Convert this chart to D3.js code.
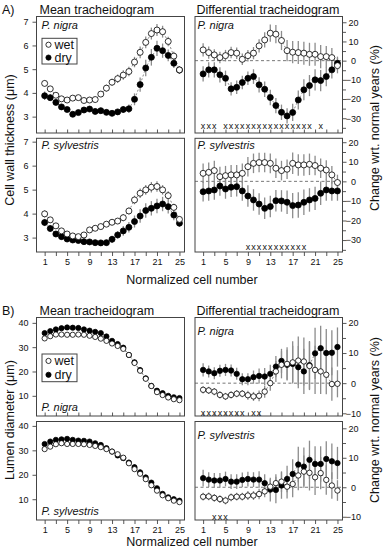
<!DOCTYPE html>
<html><head><meta charset="utf-8">
<script src="https://cdn.jsdelivr.net/npm/d3@7"></script>
<style>
body{margin:0;background:#fff}
svg{display:block}
text{font-family:"Liberation Sans",Arial,sans-serif;fill:#111}
</style>
</head><body>
<svg id="chart" width="384" height="550"></svg>
<script>
// ---------- data ----------
const cells = [1,2,3,4,5,6,7,8,9,10,11,12,13,14,15,16,17,18,19,20,21,22,23,24,25];
const xTickVals = [1,3,5,7,9,11,13,15,17,19,21,23,25];
const xTickLabels = [1,5,9,13,17,21,25];
const wallTicks = [3,4,5,6,7];
const lumenTicks = [10,20,30,40];
const diffTicksA = [20,10,0,-10,-20,-30];
const diffMinorA = [15,5,-5,-15,-25,-35];
const diffTicksB = [20,10,0,-10];
const diffMinorB = [15,5,-5];

// A) cell wall thickness, mean tracheidogram
const wallNigraWet  = [4.40,4.17,3.90,3.75,3.70,3.78,3.80,3.68,3.70,3.72,3.95,4.20,4.45,4.60,4.75,4.90,5.30,5.71,6.13,6.50,6.65,6.58,6.17,5.55,4.97];
const wallNigraWetE = [0.12,0.10,0.10,0.10,0.10,0.10,0.10,0.10,0.10,0.12,0.12,0.15,0.15,0.18,0.20,0.20,0.22,0.25,0.25,0.25,0.25,0.25,0.20,0.18,0.15];
const wallNigraDry  = [3.88,3.80,3.60,3.41,3.30,3.10,3.17,3.28,3.32,3.22,3.25,3.18,3.14,3.20,3.30,3.33,3.73,4.35,5.05,5.50,5.88,5.78,5.58,5.25,4.96];
const wallNigraDryE = [0.18,0.14,0.12,0.12,0.10,0.10,0.10,0.10,0.10,0.12,0.12,0.12,0.12,0.12,0.15,0.18,0.25,0.30,0.35,0.35,0.32,0.30,0.25,0.20,0.15];
const wallSylvWet   = [3.99,3.74,3.49,3.28,3.15,3.07,3.04,3.11,3.32,3.39,3.46,3.56,3.64,3.69,3.83,4.11,4.57,4.85,4.99,5.10,5.13,4.99,4.75,4.26,3.76];
const wallSylvWetE  = [0.15,0.12,0.10,0.10,0.10,0.10,0.10,0.10,0.10,0.10,0.10,0.10,0.12,0.12,0.15,0.15,0.18,0.20,0.20,0.22,0.22,0.20,0.18,0.15,0.12];
const wallSylvDry   = [3.63,3.38,3.15,3.04,2.94,2.90,2.88,2.83,2.82,2.79,2.78,2.79,2.93,3.11,3.28,3.43,3.67,3.90,4.13,4.22,4.32,4.40,4.29,3.94,3.60];
const wallSylvDryE  = [0.15,0.15,0.12,0.12,0.12,0.12,0.12,0.12,0.12,0.12,0.12,0.12,0.15,0.15,0.20,0.22,0.25,0.28,0.30,0.30,0.30,0.30,0.28,0.22,0.15];

// A) cell wall thickness, differential tracheidogram (%)
const wallNigraWetD  = [5.6,4.2,3.0,1.6,2.6,4.2,3.9,0.7,2.6,3.9,7.7,10.8,14.3,13.8,10.5,5.2,4.4,4.2,3.9,3.3,3.3,2.1,2.1,1.6,-2.6];
const wallNigraWetDE = [3.5,3.2,3.0,3.0,3.0,3.0,3.0,3.0,3.0,3.2,3.5,4.0,4.5,4.8,5.0,5.5,5.8,6.0,6.0,6.0,6.0,6.0,5.5,5.0,4.0];
const wallNigraDryD  = [-6.9,-4.8,-4.8,-7.4,-9.2,-14.7,-13.9,-11.4,-9.2,-8.3,-12.6,-14.9,-19.2,-23.4,-26.9,-28.8,-27.0,-20.5,-15.2,-13.0,-10.0,-10.4,-8.3,-4.8,-1.4];
const wallNigraDryDE = [4.0,4.0,4.0,4.0,4.0,3.5,3.5,3.5,3.5,3.8,4.0,4.0,4.0,4.0,4.0,4.0,4.5,5.0,5.5,5.5,5.5,5.5,5.0,4.5,3.5];
const wallSylvWetD   = [4.1,4.6,5.5,2.4,2.9,3.3,3.3,4.1,7.5,9.2,9.6,9.6,9.2,6.7,5.5,6.2,9.2,8.4,8.4,8.7,8.1,6.7,5.8,3.3,-0.6];
const wallSylvWetDE  = [5.0,5.0,5.0,5.0,5.0,5.0,5.0,5.0,5.0,5.0,5.0,5.0,5.0,5.0,5.0,5.0,5.5,5.5,5.5,5.5,5.0,5.0,5.0,4.5,4.0];
const wallSylvDryD   = [-5.3,-4.9,-4.4,-2.4,-3.9,-3.0,-2.7,-4.9,-7.5,-9.5,-11.6,-13.8,-12.9,-9.9,-10.0,-10.7,-12.4,-12.1,-10.7,-9.5,-8.7,-6.1,-4.4,-4.9,-4.9];
const wallSylvDryDE  = [5.0,5.0,5.0,5.0,5.0,5.0,5.0,5.0,5.5,5.5,5.5,5.5,5.5,5.5,5.5,6.0,6.5,6.5,6.5,6.0,6.0,6.0,5.5,5.0,5.0];
const wallNigraSig = [1,2,3,5,6,7,8,9,10,11,12,13,14,15,16,17,18,19,20,22];
const wallSylvSig  = [9,10,11,12,13,14,15,16,17,18,19];

// B) lumen diameter, mean tracheidogram
const lumenNigraWet  = [33.6,34.5,35.2,35.2,35.1,35.1,35.2,35.1,34.7,34.2,33.5,32.6,31.5,30.5,29.3,26.8,23.5,20.3,17.0,14.0,11.5,10.3,9.3,8.6,8.2];
const lumenNigraWetE = [0.5,0.5,0.5,0.5,0.5,0.5,0.5,0.5,0.5,0.5,0.5,0.6,0.6,0.7,0.8,0.9,1.0,1.0,1.0,0.9,0.8,0.7,0.6,0.5,0.5];
const lumenNigraDry  = [35.8,36.6,37.3,37.8,38.1,38.0,37.9,37.3,36.8,36.3,35.8,34.4,32.6,31.3,29.8,26.8,23.8,20.6,17.2,14.1,12.1,11.1,10.0,9.4,9.1];
const lumenNigraDryE = [0.7,0.7,0.7,0.7,0.7,0.7,0.7,0.7,0.7,0.7,0.7,0.8,0.8,0.9,1.0,1.1,1.2,1.2,1.1,1.0,0.9,0.8,0.7,0.7,0.6];
const lumenSylvWet   = [30.5,31.5,32.5,32.9,32.6,32.6,32.6,32.5,32.2,31.8,31.3,30.5,29.5,28.4,27.0,24.7,22.3,20.4,18.2,15.7,13.5,11.6,10.4,9.4,8.8];
const lumenSylvWetE  = [0.5,0.5,0.5,0.5,0.5,0.5,0.5,0.5,0.5,0.5,0.5,0.6,0.6,0.7,0.8,0.9,1.0,1.0,1.0,0.9,0.8,0.7,0.6,0.5,0.5];
const lumenSylvDry   = [32.6,33.6,34.3,34.5,34.7,34.3,34.0,33.9,33.6,32.9,32.2,30.9,29.5,27.9,26.8,25.0,23.1,21.0,18.9,16.8,14.5,12.2,10.8,10.0,9.4];
const lumenSylvDryE  = [0.7,0.7,0.7,0.7,0.7,0.7,0.7,0.7,0.7,0.7,0.7,0.8,0.9,1.0,1.1,1.2,1.2,1.2,1.1,1.0,0.9,0.8,0.7,0.7,0.6];

// B) lumen diameter, differential tracheidogram (%)
const lumenNigraWetD  = [-2.2,-2.4,-2.8,-3.9,-4.4,-3.9,-3.5,-3.5,-4.0,-4.4,-4.2,-2.8,0.0,3.9,6.1,6.4,6.9,7.5,7.2,5.7,4.4,3.9,2.8,-0.3,-0.2];
const lumenNigraWetDE = [1.2,1.2,1.2,1.2,1.2,1.2,1.2,1.2,1.5,1.5,1.8,2.0,2.5,3.5,4.5,5.5,7.0,8.0,8.0,8.0,8.0,7.5,6.5,5.5,4.5];
const lumenNigraDryD  = [4.4,3.9,3.3,4.1,4.4,4.2,3.1,1.3,1.3,2.0,2.4,2.2,3.1,5.5,7.4,6.1,6.4,5.3,3.9,6.0,9.9,11.6,10.0,10.1,12.0];
const lumenNigraDryDE = [2.2,2.0,2.0,2.0,2.0,2.0,2.0,2.0,2.0,2.2,2.5,2.8,3.0,3.5,4.0,5.0,6.0,7.0,7.5,8.0,8.5,7.5,8.0,7.5,6.5];
const lumenSylvWetD   = [-3.2,-3.1,-3.6,-4.0,-4.5,-3.4,-3.2,-3.2,-2.8,-2.8,-2.3,-1.4,0.2,1.4,1.9,0.2,1.1,4.0,5.3,4.9,3.4,4.8,2.5,0.6,-1.1];
const lumenSylvWetDE  = [1.3,1.3,1.3,1.3,1.3,1.3,1.3,1.3,1.5,1.5,1.8,2.0,2.5,3.0,3.5,4.0,4.5,5.0,5.5,6.0,6.0,5.5,5.0,4.5,3.5];
const lumenSylvDryD   = [3.1,2.6,2.3,2.3,2.8,1.9,1.9,2.5,2.8,2.6,2.6,1.4,-0.8,-0.9,0.6,2.8,4.5,7.7,7.0,9.3,7.9,7.9,9.6,8.8,8.2];
const lumenSylvDryDE  = [2.8,2.5,2.5,2.5,2.5,2.5,2.5,2.5,2.5,2.5,2.8,3.0,4.0,4.5,4.5,4.5,5.0,6.0,6.5,6.5,6.0,6.0,6.0,6.0,5.5];
const lumenNigraSig = [1,2,3,4,5,6,7,8,10,11];
const lumenSylvSig  = [3,4,5];

// ---------- layout ----------
const svg = d3.select("#chart");
const LX = [36.5, 184.5], RX = [195, 342.5];
const FONT = '"Liberation Sans",Arial,sans-serif';
const boxCol = "#444";

const panels = [
  {x:LX, y:[16.5,133], dom:[2.31,7.22], ticks:wallTicks, side:"left", wet:wallNigraWet, wetE:wallNigraWetE, dry:wallNigraDry, dryE:wallNigraDryE, sp:"P. nigra", spY:29, bottom:"inner", r:3.0, legend:[38.3,64]},
  {x:LX, y:[138.3,252], dom:[2.4,7.14], ticks:wallTicks, side:"left", wet:wallSylvWet, wetE:wallSylvWetE, dry:wallSylvDry, dryE:wallSylvDryE, sp:"P. sylvestris", spY:149, bottom:"outer", r:3.0},
  {x:RX, y:[16.5,133], dom:[-37.7,23], ticks:diffTicksA, minor:diffMinorA, side:"right", diff:true, wet:wallNigraWetD, wetE:wallNigraWetDE, dry:wallNigraDryD, dryE:wallNigraDryDE, sp:"P. nigra", spY:29, bottom:"inner", r:3.0, sig:wallNigraSig, sigV:-34.3},
  {x:RX, y:[138.3,252], dom:[-36.1,22], ticks:diffTicksA, minor:diffMinorA, side:"right", diff:true, wet:wallSylvWetD, wetE:wallSylvWetDE, dry:wallSylvDryD, dryE:wallSylvDryDE, sp:"P. sylvestris", spY:149, bottom:"outer", r:3.0, sig:wallSylvSig, sigV:-33.8},
  {x:LX, y:[317.5,416], dom:[1.7,42.2], ticks:lumenTicks, side:"left", wet:lumenNigraWet, wetE:lumenNigraWetE, dry:lumenNigraDry, dryE:lumenNigraDryE, sp:"P. nigra", spY:411, bottom:"inner", r:2.6, legend:[354,381.7]},
  {x:LX, y:[421.5,520], dom:[1.5,41.8], ticks:lumenTicks, side:"left", wet:lumenSylvWet, wetE:lumenSylvWetE, dry:lumenSylvDry, dryE:lumenSylvDryE, sp:"P. sylvestris", spY:515, bottom:"outer", r:2.6},
  {x:RX, y:[317.5,416], dom:[-10.9,21.8], ticks:diffTicksB, minor:diffMinorB, side:"right", diff:true, wet:lumenNigraWetD, wetE:lumenNigraWetDE, dry:lumenNigraDryD, dryE:lumenNigraDryDE, sp:"P. nigra", spY:335, bottom:"inner", r:2.7, sig:lumenNigraSig, sigV:-10},
  {x:RX, y:[421.5,520], dom:[-11.1,22.3], ticks:diffTicksB, minor:diffMinorB, side:"right", diff:true, wet:lumenSylvWetD, wetE:lumenSylvWetDE, dry:lumenSylvDryD, dryE:lumenSylvDryDE, sp:"P. sylvestris", spY:439, bottom:"outer", r:2.7, sig:lumenSylvSig, sigV:-10.2}
];

function styleAxis(g){
  g.select(".domain").remove();
  g.selectAll(".tick line").attr("stroke", boxCol).attr("stroke-width", 0.9);
  g.selectAll(".tick text").attr("font-family", FONT).attr("font-size", 9).attr("fill", "#111");
}

panels.forEach(p => {
  const x = d3.scaleLinear().domain([-0.45, 25.9]).range(p.x);
  const y = d3.scaleLinear().domain(p.dom).range([p.y[1], p.y[0]]);
  const g = svg.append("g");

  g.append("rect").attr("x", p.x[0]).attr("y", p.y[0])
    .attr("width", p.x[1]-p.x[0]).attr("height", p.y[1]-p.y[0])
    .attr("fill", "none").attr("stroke", boxCol).attr("stroke-width", 1);

  if (p.diff) {
    g.append("line").attr("x1", p.x[0]).attr("x2", p.x[1])
      .attr("y1", y(0)).attr("y2", y(0))
      .attr("stroke", "#555").attr("stroke-width", 0.8).attr("stroke-dasharray", "3,2.5");
  }

  const series = [
    {v:p.dry, e:p.dryE, fill:"#000"},
    {v:p.wet, e:p.wetE, fill:"#fff"}
  ];
  series.forEach(s => {
    g.append("g").selectAll("line").data(cells).join("line")
      .attr("x1", d => x(d)).attr("x2", d => x(d))
      .attr("y1", (d,i) => y(s.v[i] - s.e[i])).attr("y2", (d,i) => y(s.v[i] + s.e[i]))
      .attr("stroke", "#8c8c8c").attr("stroke-width", 1.3);
  });
  series.forEach(s => {
    const line = d3.line().x(d => x(d)).y((d,i) => y(s.v[i]));
    g.append("path").datum(cells).attr("d", line)
      .attr("fill", "none").attr("stroke", "#555").attr("stroke-width", 0.7)
      .attr("stroke-dasharray", "2,2");
  });
  series.forEach(s => {
    g.append("g").selectAll("circle").data(cells).join("circle")
      .attr("cx", d => x(d)).attr("cy", (d,i) => y(s.v[i]))
      .attr("r", p.r).attr("fill", s.fill).attr("stroke", "#000").attr("stroke-width", 0.8);
  });

  if (p.sig) {
    g.append("g").selectAll("text").data(p.sig).join("text")
      .attr("x", d => x(d)).attr("y", y(p.sigV))
      .attr("text-anchor", "middle").attr("dominant-baseline", "central")
      .attr("font-size", 9).text("x");
  }

  const sx = p.side === "left" ? p.x[0] + 5 : p.x[0] + 2.5;
  g.append("text").attr("x", sx).attr("y", p.spY)
    .attr("font-size", 11).attr("font-style", "italic").text(p.sp);

  if (p.side === "left") {
    const ax = g.append("g").attr("transform", `translate(${p.x[0]},0)`)
      .call(d3.axisLeft(y).tickValues(p.ticks).tickSize(4).tickPadding(4).tickFormat(d3.format("d")));
    styleAxis(ax);
  } else {
    const axm = g.append("g").attr("transform", `translate(${p.x[1]},0)`)
      .call(d3.axisRight(y).tickValues(p.minor).tickSize(3.5).tickFormat(""));
    styleAxis(axm);
    const ax = g.append("g").attr("transform", `translate(${p.x[1]},0)`)
      .call(d3.axisRight(y).tickValues(p.ticks).tickSize(4).tickFormat(d3.format("d")));
    styleAxis(ax);
    ax.selectAll(".tick text").attr("text-anchor", "middle").attr("x", 11);
  }

  if (p.bottom === "outer") {
    const ax = g.append("g").attr("transform", `translate(0,${p.y[1]})`)
      .call(d3.axisBottom(x).tickValues(xTickVals).tickSize(4).tickPadding(3)
        .tickFormat(d => xTickLabels.includes(d) ? d : ""));
    styleAxis(ax);
  } else {
    const ax = g.append("g").attr("transform", `translate(0,${p.y[1]})`)
      .call(d3.axisTop(x).tickValues(xTickVals).tickSize(3.5).tickFormat(""));
    styleAxis(ax);
  }

  if (p.legend) {
    const [ly0, ly1] = p.legend;
    const lg = g.append("g");
    lg.append("rect").attr("x", p.x[0] + 5.5).attr("y", ly0).attr("width", 35).attr("height", ly1 - ly0)
      .attr("fill", "#fff").attr("stroke", boxCol).attr("stroke-width", 1);
    const items = [{t:"wet", f:"#fff"}, {t:"dry", f:"#000"}];
    const step = (ly1 - ly0) / 2;
    items.forEach((it, i) => {
      const cy = ly0 + step * (i + 0.5);
      lg.append("circle").attr("cx", p.x[0] + 12).attr("cy", cy).attr("r", 2.6)
        .attr("fill", it.f).attr("stroke", "#000").attr("stroke-width", 0.8);
      lg.append("text").attr("x", p.x[0] + 18).attr("y", cy).attr("dominant-baseline", "central")
        .attr("font-size", 12.5).text(it.t);
    });
  }
});

const T = (x, y, s, size, anchor, rot) => {
  const t = svg.append("text").attr("font-size", size).attr("text-anchor", anchor || "start").text(s);
  if (rot) t.attr("transform", `translate(${x},${y}) rotate(${rot})`);
  else t.attr("x", x).attr("y", y);
  return t;
};
T(2, 13.5, "A)", 12.5);
T(39.5, 13.5, "Mean tracheidogram", 12.5);
T(196.5, 13.5, "Differential tracheidogram", 12.5);
T(192, 284, "Normalized cell number", 12.5, "middle");
T(2, 314.5, "B)", 12.5);
T(39.5, 314.5, "Mean tracheidogram", 12.5);
T(196.5, 314.5, "Differential tracheidogram", 12.5);
T(192, 546, "Normalized cell number", 12.5, "middle");
T(14, 140, "Cell wall thickness (μm)", 12.5, "middle", -90);
T(14, 420, "Lumen diameter (μm)", 12.5, "middle", -90);
T(379, 128, "Change wrt. normal years (%)", 12.5, "middle", -90);
T(379, 420, "Change wrt. normal years (%)", 12.5, "middle", -90);
</script>
</body></html>
